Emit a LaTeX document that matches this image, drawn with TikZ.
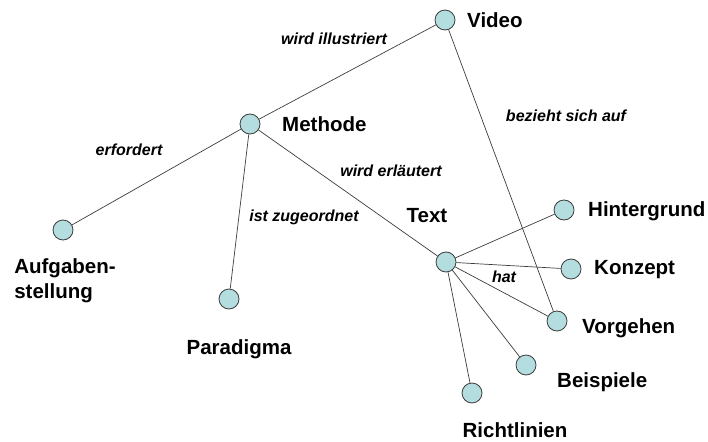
\documentclass[tikz,border=0pt]{standalone}
\usepackage{fontspec}
\setmainfont{Liberation Sans}
\begin{document}
\begin{tikzpicture}[x=1pt,y=-1pt]
\definecolor{cmap_fill}{RGB}{180,221,223}
\definecolor{cmap_line}{RGB}{60,60,60}
\tikzset{
  concept/.style={shape=circle,draw=cmap_line,line width=0.8pt,fill=cmap_fill,minimum size=20pt,inner sep=0pt},
  lbl/.style={font=\fontsize{20.5}{25}\selectfont\bfseries,inner sep=0pt},
  rel/.style={font=\fontsize{16}{19}\selectfont\bfseries\itshape,inner sep=0pt},
  link/.style={draw=cmap_line,line width=0.7pt}
}
\useasboundingbox (0,0) rectangle (708,441);
% circles
\node[concept] (video) at (445,20) {};
\node[concept] (methode) at (250,124) {};
\node[concept] (aufgabe) at (63,230) {};
\node[concept] (paradigma) at (229,299) {};
\node[concept] (text) at (446,262) {};
\node[concept] (hinter) at (564,210) {};
\node[concept] (konzept) at (571,269) {};
\node[concept] (vorgehen) at (557,321) {};
\node[concept] (beispiele) at (526,365) {};
\node[concept] (richtlinien) at (472,393) {};
% names
\node[lbl,anchor=west] (video_l) at (467,20) {Video};
\node[lbl,anchor=west] (methode_l) at (282,124) {Methode};
\node[lbl,align=left] (aufgabe_l) at (65,281) {Aufgaben-\\stellung};
\node[lbl] (paradigma_l) at (239,349) {Paradigma};
\node[lbl] (text_l) at (427,216) {Text};
\node[lbl,anchor=west] (hinter_l) at (588,211) {Hintergrund};
\node[lbl,anchor=west] (konzept_l) at (594,270) {Konzept};
\node[lbl,anchor=west] (vorgehen_l) at (582,328) {Vorgehen};
\node[lbl,anchor=west] (beispiele_l) at (557,382) {Beispiele};
\node[lbl,anchor=base] (richtlinien_l) at (515,437) {Richtlinien};
% links
\draw[link] (methode) -- (video);
\draw[link] (methode) -- (aufgabe);
\draw[link] (methode) -- (paradigma);
\draw[link] (methode) -- (text);
\draw[link] (video) -- (vorgehen);
\draw[link] (text) -- (hinter);
\draw[link] (text) -- (konzept);
\draw[link] (text) -- (vorgehen);
\draw[link] (text) -- (beispiele);
\draw[link] (text) -- (richtlinien);
% relation labels
\node[rel] (r_illustriert) at (334,39) {wird illustriert};
\node[rel] (r_erfordert) at (129,150) {erfordert};
\node[rel] (r_zugeordnet) at (304,217) {ist zugeordnet};
\node[rel] (r_erlaeutert) at (391,171) {wird erläutert};
\node[rel] (r_bezieht) at (566,116) {bezieht sich auf};
\node[rel] (r_hat) at (504,277) {hat};
\end{tikzpicture}
\end{document}
